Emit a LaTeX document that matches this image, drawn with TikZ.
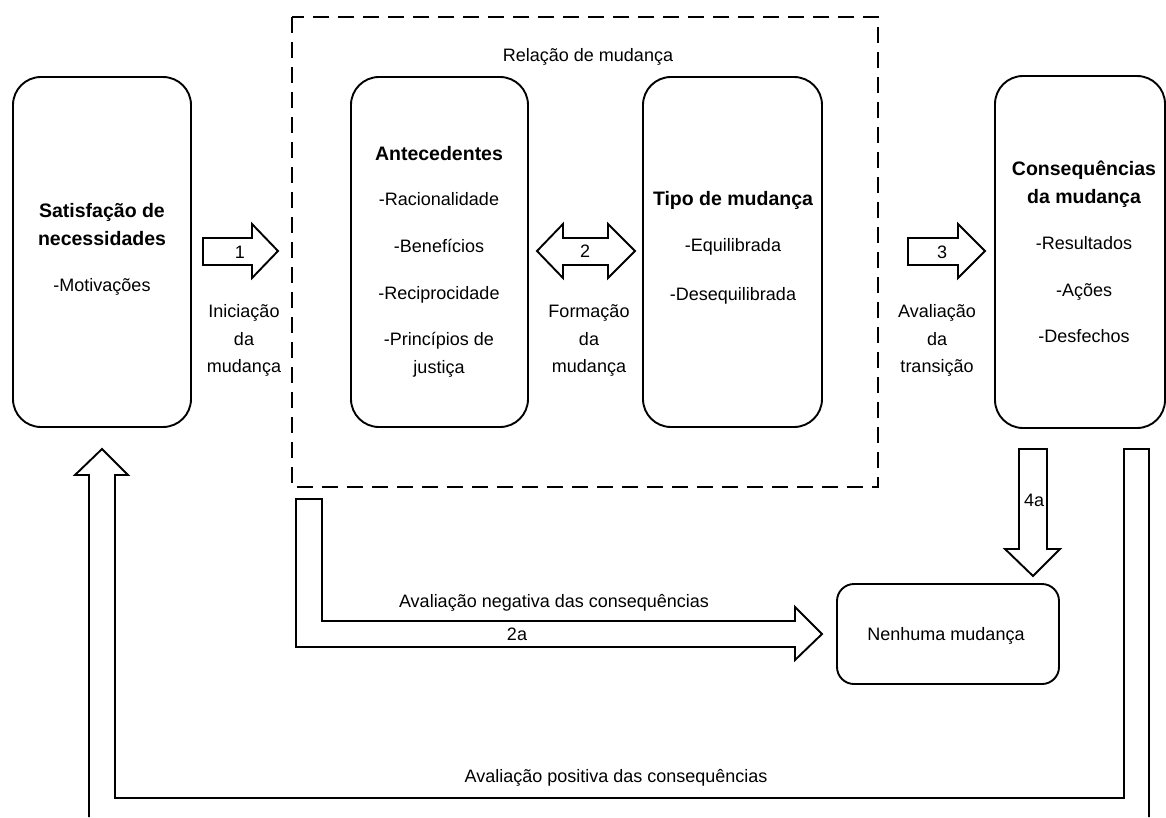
\documentclass[tikz,border=0pt]{standalone}
\usepackage{fontspec}
\setmainfont{Liberation Sans}
\begin{document}
\begin{tikzpicture}[x=1pt,y=-1pt,
  box/.style={draw, line width=1.9pt, rounded corners=28pt},
  smallbox/.style={draw, line width=1.9pt, rounded corners=17pt},
  txt/.style={font=\fontsize{18}{22}\selectfont, inner sep=0pt, text height=12.9pt, text depth=0pt},
  btxt/.style={font=\fontsize{19.5}{24}\selectfont\bfseries, inner sep=0pt, text height=14pt, text depth=0pt},
  blk/.style={draw, line width=1.9pt, line join=miter},
  dashbox/.style={draw, line width=1.9pt, dash pattern=on 16pt off 9pt}]
\useasboundingbox (0,0) rectangle (1166,817);

% main boxes
\node[box, minimum width=178pt, minimum height=350pt] (sat) at (102,252) {};
\node[box, minimum width=177pt, minimum height=350pt] (ant) at (439.5,252) {};
\node[box, minimum width=179pt, minimum height=350pt] (tipo) at (732.5,252) {};
\node[box, minimum width=170pt, minimum height=352pt] (cons) at (1080,252) {};
\node[smallbox, minimum width=222pt, minimum height=100pt] (nen) at (948,634) {};
\draw[dashbox] (292,17) rectangle (878,487);

% texts in boxes
\node[btxt] (t1) at (102,210) {Satisfação de};
\node[btxt] (t2) at (102,238) {necessidades};
\node[txt] (t3) at (102,285) {-Motivações};

\node[btxt] (a1) at (439,153) {Antecedentes};
\node[txt] (a2) at (439,199) {-Racionalidade};
\node[txt] (a3) at (439,246) {-Benefícios};
\node[txt] (a4) at (439,293) {-Reciprocidade};
\node[txt] (a5) at (439,339) {-Princípios de};
\node[txt] (a6) at (439,367) {justiça};

\node[btxt] (p1) at (733,198) {Tipo de mudança};
\node[txt] (p2) at (733,245) {-Equilibrada};
\node[txt] (p3) at (733,294) {-Desequilibrada};

\node[btxt] (c1) at (1084,168) {Consequências};
\node[btxt] (c2) at (1084,196) {da mudança};
\node[txt] (c3) at (1084,243) {-Resultados};
\node[txt] (c4) at (1084,290) {-Ações};
\node[txt] (c5) at (1084,336) {-Desfechos};

\node[txt] (rel) at (588,55) {Relação de mudança};
\node[txt] (nentxt) at (946,634) {Nenhuma mudança};

% side labels
\node[txt] (i1) at (244,311) {Iniciação};
\node[txt] (i2) at (244,339) {da};
\node[txt] (i3) at (244,366) {mudança};
\node[txt] (f1) at (589,311) {Formação};
\node[txt] (f2) at (589,339) {da};
\node[txt] (f3) at (589,366) {mudança};
\node[txt] (v1) at (937,311) {Avaliação};
\node[txt] (v2) at (937,339) {da};
\node[txt] (v3) at (937,366) {transição};

% block arrows
\draw[blk] (203,238) -- (252,238) -- (252,224) -- (278,251) -- (252,278) -- (252,265) -- (203,265) -- cycle;
\draw[blk] (537,251) -- (563,224) -- (563,238) -- (608,238) -- (608,224) -- (635,251) -- (608,278) -- (608,265) -- (563,265) -- (563,278) -- cycle;
\draw[blk] (908,238) -- (958,238) -- (958,224) -- (985,251) -- (958,278) -- (958,265) -- (908,265) -- cycle;
\draw[blk] (1019,449) -- (1047,449) -- (1047,549) -- (1060,549) -- (1033,576) -- (1005,549) -- (1019,549) -- cycle;
\draw[blk] (296,499) -- (322,499) -- (322,621) -- (795,621) -- (795,607) -- (822,634) -- (795,660) -- (795,647) -- (296,647) -- cycle;
\draw[blk] (89,817) -- (89,475) -- (75,475) -- (102,449) -- (128,475) -- (115,475) -- (115,798) -- (1124,798) -- (1124,449) -- (1149,449) -- (1149,817);

% arrow labels
\node[txt] (n1) at (240,252) {1};
\node[txt] (n2) at (585,251) {2};
\node[txt] (n3) at (942,252) {3};
\node[txt] (n4a) at (1034,500) {4a};
\node[txt] (n2a) at (517,634) {2a};
\node[txt] (neg) at (554,601) {Avaliação negativa das consequências};
\node[txt] (pos) at (616,776) {Avaliação positiva das consequências};
\end{tikzpicture}
\end{document}
